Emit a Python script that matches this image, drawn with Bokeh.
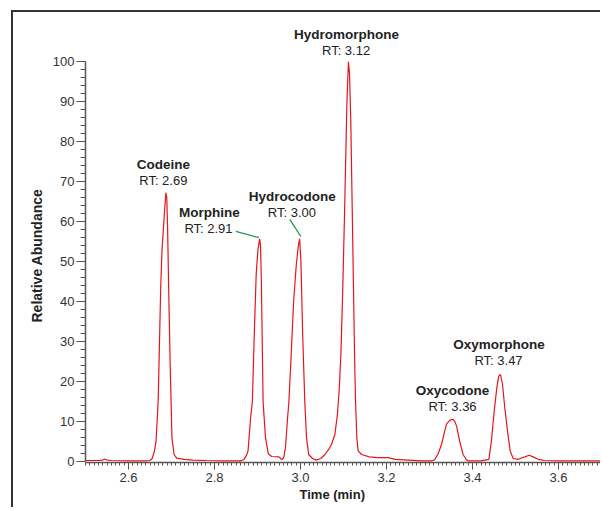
from bokeh.plotting import figure
from bokeh.models import Range1d, SingleIntervalTicker, PrintfTickFormatter, Label, Title
from bokeh.embed import file_html
from bokeh.resources import INLINE

# ---- data ----
time_min = [2.500, 2.530, 2.540, 2.545, 2.550, 2.560, 2.600, 2.640, 2.650, 2.655,
            2.660, 2.664, 2.669, 2.675, 2.678, 2.681, 2.684, 2.687, 2.689, 2.691,
            2.694, 2.697, 2.701, 2.706, 2.712, 2.730, 2.750, 2.780, 2.820, 2.860,
            2.868, 2.874, 2.878, 2.884, 2.888, 2.892, 2.897, 2.901, 2.905, 2.907,
            2.909, 2.911, 2.913, 2.9186, 2.925, 2.933, 2.950, 2.956, 2.961, 2.965,
            2.970, 2.973, 2.978, 2.984, 2.990, 2.995, 2.998, 3.001, 3.005, 3.010,
            3.014, 3.019, 3.028, 3.037, 3.047, 3.057, 3.065, 3.072, 3.080, 3.086,
            3.090, 3.094, 3.098, 3.102, 3.105, 3.108, 3.1115, 3.114, 3.117, 3.120,
            3.123, 3.126, 3.128, 3.131, 3.134, 3.142, 3.160, 3.180, 3.204, 3.220,
            3.250, 3.280, 3.305, 3.312, 3.320, 3.328, 3.335, 3.340, 3.348, 3.355,
            3.359, 3.363, 3.370, 3.378, 3.385, 3.390, 3.420, 3.438, 3.444, 3.4505,
            3.4566, 3.461, 3.465, 3.4698, 3.4751, 3.4814, 3.4876, 3.4946, 3.506, 3.5217,
            3.5316, 3.541, 3.5527, 3.568, 3.600, 3.700]
abundance = [0.3, 0.3, 0.4, 0.7, 0.4, 0.3, 0.2, 0.2, 0.3, 0.8,
             2.5, 5.0, 15.0, 44.0, 53.0, 58.0, 63.0, 67.2, 66.0, 58.0,
             40.0, 24.0, 6.0, 1.8, 0.9, 0.6, 0.4, 0.3, 0.2, 0.2,
             0.5, 1.5, 2.7, 11.0, 15.0, 30.0, 47.0, 53.0, 55.7, 54.0,
             45.0, 30.0, 15.0, 6.0, 2.0, 1.3, 1.2, 0.5, 1.0, 3.5,
             11.0, 15.0, 26.0, 40.0, 49.0, 54.0, 55.7, 50.0, 32.0, 15.0,
             6.0, 1.8, 0.8, 0.4, 0.8, 1.8, 3.0, 4.3, 6.8, 12.0,
             18.0, 27.0, 42.0, 60.0, 75.0, 90.0, 100.0, 97.0, 85.0, 65.0,
             45.0, 25.0, 15.0, 6.0, 2.7, 1.8, 1.2, 1.0, 1.0, 0.6,
             0.4, 0.2, 0.2, 0.5, 2.0, 4.3, 7.5, 9.5, 10.4, 10.6,
             10.0, 8.9, 5.2, 1.8, 0.6, 0.2, 0.2, 0.6, 5.2, 12.7,
             18.5, 21.4, 21.8, 19.3, 13.5, 7.7, 2.7, 0.8, 0.6, 1.2,
             1.6, 1.2, 0.6, 0.3, 0.2, 0.2]

compounds = ["Codeine", "Morphine", "Hydrocodone", "Hydromorphone", "Oxycodone", "Oxymorphone"]
rt_labels = ["RT: 2.69", "RT: 2.91", "RT: 3.00", "RT: 3.12", "RT: 3.36", "RT: 3.47"]

# label placement (time, abundance of the name line)
name_x = [2.681, 2.788, 2.981, 3.107, 3.3535, 3.4616]
name_y = [74.2, 62.2, 66.4, 106.9, 17.7, 29.2]
rt_x = [2.681, 2.786, 2.980, 3.106, 3.3535, 3.4605]

# leader lines (Morphine, Hydrocodone)
lead_x0 = [2.8495, 2.9751]
lead_y0 = [57.6, 60.6]
lead_x1 = [2.903, 3.0007]
lead_y1 = [56.0, 56.3]

FONT = "Liberation Sans"

p = figure(width=589, height=497,
           x_range=Range1d(2.5, 3.7), y_range=Range1d(-0.2, 111.55),
           output_backend="svg", toolbar_location=None,
           min_border_left=72, min_border_right=1,
           min_border_top=3, min_border_bottom=47,
           margin=(10, 0, 0, 11),
           styles={"border-left": "2px solid #333333", "border-top": "2px solid #333333"})

p.outline_line_color = None
p.xgrid.visible = False
p.ygrid.visible = False
p.background_fill_color = "white"
p.border_fill_color = "white"

r = p.line(time_min, abundance, line_color="#e8141d", line_width=1.2)
r.level = "annotation"

p.segment(x0=lead_x0, y0=lead_y0, x1=lead_x1, y1=lead_y1,
          line_color="#1a9a4a", line_width=1.3)

# axes
xa = p.xaxis[0]
xa.ticker = SingleIntervalTicker(interval=0.2, num_minor_ticks=20)
xa.formatter = PrintfTickFormatter(format="%.1f")
xa.bounds = (2.5, 3.7)
xa.axis_line_color = "#555555"
xa.axis_line_width = 1.5
xa.major_tick_line_color = "#555555"
xa.minor_tick_line_color = "#555555"
xa.major_tick_in = 0
xa.major_tick_out = 7
xa.minor_tick_in = 0
xa.minor_tick_out = 3
xa.major_label_standoff = 3
xa.major_label_text_font = FONT
xa.major_label_text_font_size = "13px"
xa.major_label_text_color = "#333333"

ya = p.yaxis[0]
ya.ticker = SingleIntervalTicker(interval=10, num_minor_ticks=5)
ya.bounds = (0, 100)
ya.axis_line_color = "#555555"
ya.axis_line_width = 1.5
ya.major_tick_line_color = "#555555"
ya.minor_tick_line_color = "#555555"
ya.major_tick_in = 0
ya.major_tick_out = 9
ya.minor_tick_in = 0
ya.minor_tick_out = 5
ya.major_label_standoff = 2
ya.major_label_text_font = FONT
ya.major_label_text_font_size = "13px"
ya.major_label_text_color = "#333333"

p.add_layout(Title(text="Relative Abundance", align="left", offset=140,
                   text_font=FONT, text_font_style="bold", text_font_size="14px",
                   text_color="#222222", standoff=10), "left")
p.add_layout(Title(text="Time (min)", align="left", offset=214,
                   text_font=FONT, text_font_style="bold", text_font_size="13px",
                   text_color="#222222", standoff=0), "below")

for nm, rt, nx, ny, rx in zip(compounds, rt_labels, name_x, name_y, rt_x):
    p.add_layout(Label(x=nx, y=ny, text=nm, text_font=FONT, text_font_style="bold",
                       text_font_size="13.5px", text_color="#222222",
                       text_align="center", text_baseline="middle"))
    p.add_layout(Label(x=rx, y=ny - 4.0, text=rt, text_font=FONT,
                       text_font_size="13px", text_color="#222222",
                       text_align="center", text_baseline="middle"))

open("out.html", "w").write(file_html(p, INLINE))
